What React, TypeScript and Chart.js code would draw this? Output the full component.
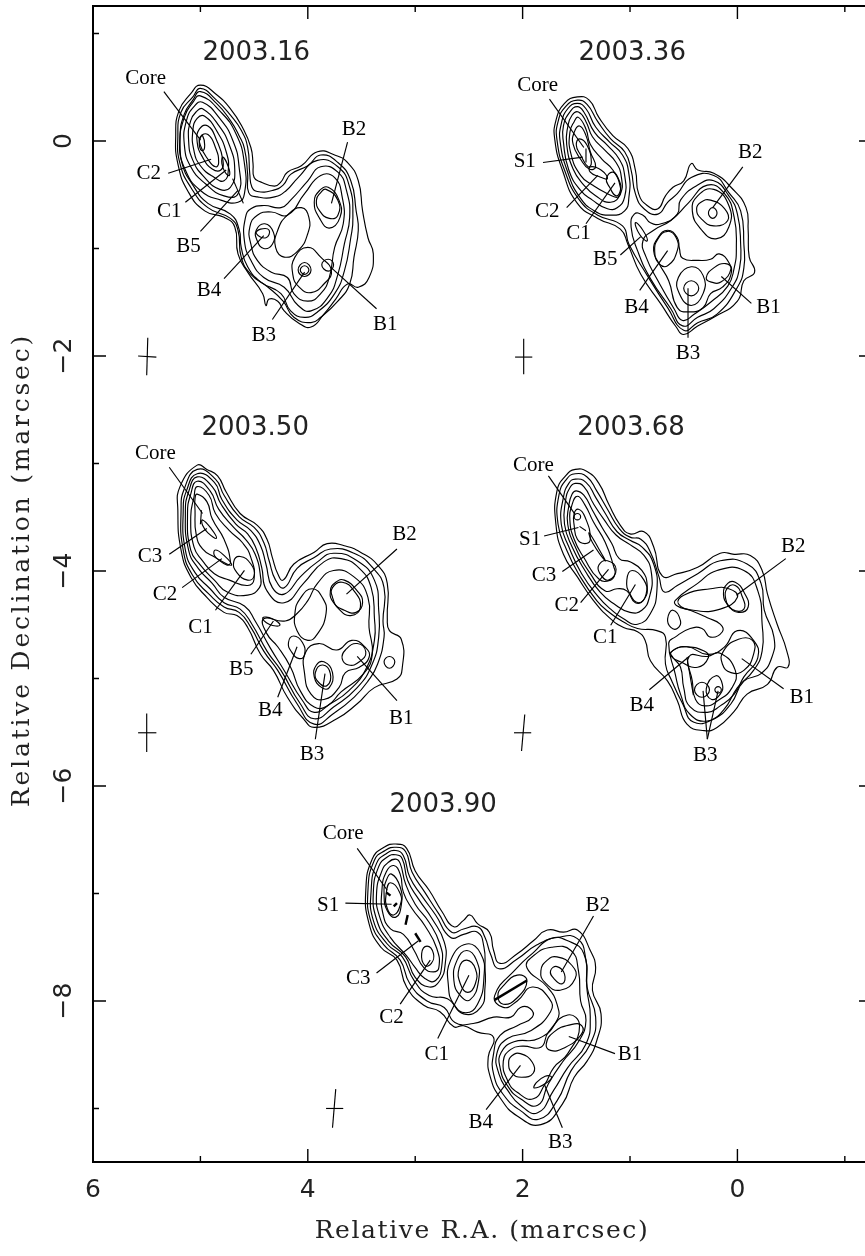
import React, { useEffect, useRef } from "react";
import { Chart, registerables } from "chart.js";

Chart.register(...registerables);

type Pt = [number, number];
type Label = [string, number, number];

// All positions below are in marcsec, relative to each epoch's own map origin.
const xLabel = "Relative R.A. (marcsec)";
const yLabel = "Relative Declination (marcsec)";
const xRange = [-1.253, 6];
const yRange = [-9.498, 1.256];

// ---------- 2003.16 ----------
const contours16: Pt[][] = [
  [[5.00,.52],[4.86,.44],[4.72,.30],[4.61,.13],[4.53,-.06],[4.51,-.21],[4.50,-.34],[4.44,-.38],[4.31,-.42],[4.25,-.38],[4.19,-.29],[4.06,-.23],[3.91,-.10],[3.75,-.13],[3.63,-.20],[3.53,-.37],[3.49,-.65],[3.44,-.90],[3.39,-1.05],[3.43,-1.27],[3.53,-1.36],[3.63,-1.33],[3.74,-1.47],[3.85,-1.61],[3.97,-1.73],[4.09,-1.69],[4.22,-1.58],[4.28,-1.49],[4.36,-1.47],[4.39,-1.53],[4.42,-1.42],[4.56,-1.22],[4.65,-1.05],[4.68,-.80],[4.78,-.71],[4.96,-.65],[5.12,-.46],[5.21,-.21],[5.23,.04],[5.20,.28],[5.09,.44]],
  [[5.00,.49],[4.86,.39],[4.72,.24],[4.62,.10],[4.56,-.06],[4.54,-.31],[4.52,-.43],[4.47,-.47],[4.33,-.46],[4.23,-.41],[4.16,-.31],[4.00,-.23],[3.88,-.13],[3.72,-.20],[3.60,-.37],[3.55,-.65],[3.53,-.83],[3.57,-1.08],[3.61,-1.33],[3.72,-1.49],[3.88,-1.64],[3.97,-1.69],[4.13,-1.64],[4.23,-1.49],[4.37,-1.36],[4.53,-1.24],[4.62,-1.08],[4.65,-.83],[4.72,-.72],[4.93,-.62],[5.09,-.43],[5.19,-.21],[5.21,.04],[5.18,.27],[5.07,.41]],
  [[5.00,.46],[4.85,.35],[4.72,.19],[4.64,.05],[4.59,-.07],[4.56,-.31],[4.55,-.48],[4.47,-.52],[4.31,-.52],[4.20,-.46],[4.09,-.34],[3.91,-.18],[3.72,-.24],[3.61,-.43],[3.58,-.71],[3.60,-.90],[3.66,-1.21],[3.75,-1.42],[3.91,-1.59],[4.03,-1.64],[4.16,-1.58],[4.25,-1.42],[4.44,-1.31],[4.56,-1.17],[4.62,-.99],[4.64,-.82],[4.72,-.68],[4.93,-.58],[5.07,-.41],[5.17,-.21],[5.19,.04],[5.15,.25],[5.07,.38]],
  [[4.53,-.63],[4.41,-.60],[4.25,-.62],[4.16,-.55],[4.00,-.37],[3.88,-.24],[3.72,-.29],[3.64,-.46],[3.61,-.71],[3.66,-.96],[3.72,-1.24],[3.81,-1.45],[3.97,-1.58],[4.09,-1.53],[4.22,-1.36],[4.41,-1.27],[4.53,-1.11],[4.59,-.93],[4.58,-.71]],
  [[4.34,-.66],[4.19,-.69],[4.03,-.49],[3.88,-.32],[3.75,-.34],[3.68,-.52],[3.67,-.77],[3.75,-.99],[3.80,-1.27],[3.88,-1.42],[4.00,-1.49],[4.13,-1.42],[4.19,-1.27],[4.34,-1.22],[4.47,-1.11],[4.53,-.96],[4.54,-.80],[4.47,-.69]],
  [[4.40,-.77],[4.32,-.85],[4.33,-.96],[4.41,-1.00],[4.47,-.93],[4.48,-.83]],
  [[4.44,-.82],[4.36,-.83],[4.39,-.90],[4.48,-.86]],
  [[4.06,-.62],[3.99,-.71],[4.00,-.86],[4.09,-1.02],[4.22,-1.08],[4.30,-.99],[4.28,-.83],[4.19,-.69]],
  [[4.00,-.99],[3.88,-1.08],[3.78,-1.21],[3.85,-1.33],[3.97,-1.41],[4.08,-1.36],[4.14,-1.24],[4.12,-1.08]],
  [[4.03,-1.13],[3.97,-1.20],[4.03,-1.26],[4.09,-1.20]],
  [[4.03,-1.16],[3.99,-1.20],[4.03,-1.24],[4.07,-1.20]],
  [[3.81,-1.10],[3.76,-1.15],[3.81,-1.21],[3.87,-1.15]],
  [[3.81,-.43],[3.71,-.55],[3.70,-.71],[3.80,-.81],[3.89,-.72],[3.94,-.57],[3.89,-.46]],
  [[3.83,-.45],[3.72,-.55],[3.72,-.69],[3.80,-.72],[3.89,-.65],[3.92,-.55],[3.88,-.48]],
  [[5.00,.42],[4.82,.28],[4.67,.07],[4.59,-.21],[4.59,-.49],[4.65,-.57],[4.81,-.55],[5.00,-.46],[5.14,-.27],[5.19,-.03],[5.15,.22],[5.07,.36]],
  [[4.98,.36],[4.82,.21],[4.70,.01],[4.64,-.24],[4.65,-.49],[4.78,-.51],[4.95,-.40],[5.09,-.24],[5.15,-.03],[5.13,.19],[5.06,.32]],
  [[4.98,.30],[4.84,.16],[4.73,-.04],[4.68,-.27],[4.72,-.43],[4.82,-.45],[4.96,-.34],[5.07,-.18],[5.11,.01],[5.09,.19],[5.03,.28]],
  [[4.96,.23],[4.84,.08],[4.76,-.10],[4.74,-.27],[4.78,-.37],[4.87,-.34],[5.00,-.23],[5.06,-.09],[5.07,.10],[5.03,.21]],
  [[4.93,.14],[4.85,.01],[4.79,-.18],[4.81,-.27],[4.89,-.26],[4.98,-.15],[5.03,-.01],[5.01,.11]],
  [[4.93,.06],[4.86,-.06],[4.83,-.20],[4.86,-.24],[4.93,-.17],[5.00,-.04],[5.00,.04]],
  [[4.98,.05],[4.96,-.04],[4.98,-.09],[5.01,-.04],[5.00,.03]],
  [[4.79,-.15],[4.74,-.24],[4.73,-.32],[4.77,-.29],[4.80,-.21]],
];
const lines16: Pt[][] = [
  [[5.34,.46],[5.00,.01]],[[5.30,-.30],[4.90,-.17]],[[5.14,-.57],[4.76,-.27]],[[5.00,-.84],[4.65,-.46]],[[4.70,-.35],[4.60,-.58]],
  [[3.63,-.01],[3.78,-.58]],[[4.78,-1.28],[4.41,-.88]],[[4.33,-1.66],[4.03,-1.22]],[[3.36,-1.56],[3.78,-1.18]],
  [[5.49,-1.83],[5.50,-2.18]],[[5.58,-2.00],[5.41,-2.01]],
];
const labels16: Label[] = [["Core",5.51,.58],["C2",5.48,-.30],["C1",5.29,-.66],["B5",5.11,-.98],["B2",3.57,.11],["B4",4.92,-1.39],["B3",4.41,-1.81],["B1",3.28,-1.71]];

// ---------- 2003.36 ----------
const contours36: Pt[][] = [
  [[5.12,.41],[5.01,.38],[4.92,.22],[4.79,.05],[4.65,-.07],[4.58,-.27],[4.55,-.49],[4.47,-.60],[4.37,-.63],[4.30,-.51],[4.23,-.43],[4.13,-.37],[4.06,-.21],[4.00,-.27],[3.85,-.30],[3.69,-.43],[3.55,-.62],[3.53,-.83],[3.52,-1.08],[3.47,-1.22],[3.57,-1.30],[3.63,-1.49],[3.85,-1.64],[4.00,-1.72],[4.13,-1.80],[4.20,-1.73],[4.34,-1.52],[4.53,-1.24],[4.65,-.96],[4.72,-.82],[4.93,-.72],[5.12,-.58],[5.26,-.27],[5.33,.01],[5.32,.19],[5.24,.35]],
  [[5.12,.38],[5.03,.34],[4.93,.18],[4.81,.02],[4.68,-.10],[4.62,-.27],[4.58,-.49],[4.50,-.63],[4.37,-.68],[4.28,-.57],[4.19,-.49],[4.06,-.34],[3.85,-.32],[3.71,-.48],[3.60,-.65],[3.57,-.96],[3.57,-1.18],[3.63,-1.36],[3.82,-1.61],[4.00,-1.69],[4.13,-1.76],[4.28,-1.55],[4.47,-1.25],[4.64,-.96],[4.70,-.79],[4.93,-.69],[5.10,-.55],[5.24,-.27],[5.31,.01],[5.30,.18],[5.23,.32]],
  [[5.12,.35],[5.04,.30],[4.95,.13],[4.82,-.01],[4.70,-.13],[4.64,-.31],[4.64,-.52],[4.68,-.65],[4.81,-.69],[4.96,-.65],[5.10,-.52],[5.21,-.29],[5.28,-.01],[5.27,.16],[5.21,.30]],
  [[5.12,.32],[5.06,.27],[4.96,.08],[4.84,-.04],[4.73,-.17],[4.68,-.32],[4.68,-.52],[4.75,-.62],[4.84,-.63],[4.98,-.55],[5.09,-.46],[5.20,-.27],[5.25,-.01],[5.25,.14],[5.19,.27]],
  [[5.11,.27],[5.04,.18],[4.98,.04],[4.86,-.09],[4.76,-.20],[4.71,-.34],[4.72,-.49],[4.81,-.57],[4.95,-.51],[5.06,-.41],[5.16,-.26],[5.22,-.03],[5.21,.13],[5.17,.24]],
  [[5.11,.22],[5.04,.11],[5.00,-.03],[4.89,-.17],[4.79,-.27],[4.72,-.43],[4.74,-.52],[4.84,-.49],[4.98,-.41],[5.09,-.32],[5.18,-.12],[5.19,.08],[5.15,.18]],
  [[5.10,.14],[5.04,.05],[5.00,-.10],[4.95,-.24],[5.01,-.26],[5.09,-.17],[5.16,-.03],[5.15,.08]],
  [[5.10,.02],[5.03,-.04],[4.99,-.20],[5.02,-.24],[5.09,-.13],[5.13,-.04]],
  [[5.00,-.24],[4.90,-.27],[4.84,-.35],[4.92,-.33],[5.00,-.29]],
  [[4.79,-.29],[4.73,-.37],[4.72,-.46],[4.76,-.51],[4.82,-.43],[4.85,-.35]],
  [[4.59,-.68],[4.51,-.69],[4.44,-.76],[4.34,-.77],[4.19,-.68],[4.16,-.55],[4.00,-.41],[3.85,-.37],[3.71,-.51],[3.63,-.68],[3.60,-.96],[3.61,-1.18],[3.68,-1.36],[3.85,-1.56],[4.00,-1.64],[4.14,-1.72],[4.25,-1.56],[4.44,-1.28],[4.56,-1.02],[4.62,-.80]],
  [[4.28,-.83],[4.19,-.90],[4.17,-1.00],[4.14,-1.09],[3.99,-1.11],[3.88,-1.10],[3.80,-1.05],[3.71,-1.13],[3.69,-1.24],[3.77,-1.36],[3.88,-1.42],[3.95,-1.55],[4.08,-1.59],[4.19,-1.55],[4.27,-1.30],[4.36,-1.14],[4.41,-1.02],[4.37,-.90]],
  [[4.41,-.83],[4.25,-.74],[4.09,-.58],[3.91,-.41],[3.75,-.49],[3.66,-.71],[3.64,-.99],[3.66,-1.18],[3.72,-1.35],[3.88,-1.50],[4.03,-1.61],[4.14,-1.67],[4.22,-1.56],[4.37,-1.30],[4.48,-1.08],[4.51,-.93]],
  [[4.58,-.76],[4.51,-.83],[4.47,-.93],[4.54,-.87]],
  [[4.28,-.84],[4.20,-.90],[4.19,-1.02],[4.28,-1.16],[4.36,-1.14],[4.40,-1.03],[4.37,-.91]],
  [[3.85,-.45],[3.71,-.60],[3.71,-.80],[3.83,-.91],[3.97,-.82],[4.05,-.65],[4.00,-.51]],
  [[3.88,-.55],[3.75,-.63],[3.72,-.74],[3.85,-.79],[3.97,-.72],[4.01,-.63],[3.97,-.57]],
  [[3.86,-.62],[3.82,-.67],[3.86,-.72],[3.90,-.67]],
  [[4.06,-1.17],[3.95,-1.25],[3.95,-1.42],[4.06,-1.53],[4.17,-1.42],[4.18,-1.27]],
  [[4.06,-1.30],[3.99,-1.37],[4.06,-1.44],[4.13,-1.37]],
  [[3.74,-1.14],[3.69,-1.19],[3.78,-1.31],[3.88,-1.31],[3.92,-1.27],[3.85,-1.18]],
];
const lines36: Pt[][] = [
  [[5.38,.39],[5.06,-.06]],[[5.44,-.20],[5.07,-.15]],[[5.22,-.62],[4.93,-.32]],[[5.04,-.77],[4.77,-.39]],[[4.72,-1.06],[4.53,-.89]],
  [[3.58,-.24],[3.86,-.62]],[[4.54,-1.39],[4.28,-1.02]],[[4.09,-1.83],[4.09,-1.37]],[[3.50,-1.51],[3.78,-1.26]],
  [[5.04,-.07],[5.04,-.20]],
  [[5.62,-1.84],[5.62,-2.17]],[[5.70,-2.01],[5.54,-2.01]],
];
const labels36: Label[] = [["Core",5.49,.52],["S1",5.61,-.19],["C2",5.40,-.66],["C1",5.11,-.86],["B5",4.86,-1.10],["B2",3.51,-.11],["B4",4.57,-1.55],["B3",4.09,-1.98],["B1",3.34,-1.55]];

// ---------- 2003.50 ----------
const contours50: Pt[][] = [
  [[5.12,.52],[5.03,.48],[4.93,.42],[4.85,.27],[4.72,.07],[4.56,-.04],[4.47,-.17],[4.42,-.34],[4.37,-.49],[4.32,-.55],[4.22,-.40],[4.03,-.29],[3.91,-.21],[3.75,-.23],[3.60,-.29],[3.44,-.41],[3.35,-.58],[3.35,-.90],[3.33,-1.02],[3.22,-1.10],[3.21,-1.36],[3.26,-1.47],[3.47,-1.55],[3.63,-1.70],[3.82,-1.84],[4.03,-1.92],[4.13,-1.84],[4.28,-1.64],[4.41,-1.39],[4.53,-1.24],[4.65,-.99],[4.75,-.88],[4.87,-.85],[5.03,-.71],[5.18,-.52],[5.27,-.27],[5.30,.10],[5.28,.32]],
  [[5.12,.48],[4.95,.39],[4.87,.24],[4.73,.04],[4.59,-.06],[4.50,-.20],[4.45,-.37],[4.39,-.55],[4.31,-.62],[4.19,-.44],[4.03,-.34],[3.88,-.26],[3.66,-.30],[3.49,-.43],[3.38,-.62],[3.39,-.93],[3.38,-1.08],[3.44,-1.33],[3.53,-1.49],[3.66,-1.64],[3.85,-1.79],[4.03,-1.89],[4.19,-1.70],[4.37,-1.39],[4.50,-1.21],[4.62,-.99],[4.73,-.85],[4.87,-.80],[5.01,-.68],[5.16,-.51],[5.25,-.27],[5.27,.10],[5.24,.30]],
  [[5.12,.44],[4.96,.36],[4.89,.20],[4.75,.01],[4.62,-.09],[4.53,-.23],[4.48,-.40],[4.42,-.62],[4.31,-.68],[4.16,-.52],[4.00,-.38],[3.85,-.30],[3.63,-.37],[3.47,-.55],[3.43,-.83],[3.43,-1.08],[3.49,-1.33],[3.63,-1.55],[3.85,-1.73],[4.03,-1.84],[4.16,-1.70],[4.34,-1.39],[4.47,-1.21],[4.61,-.96],[4.72,-.82],[4.87,-.76],[5.00,-.63],[5.14,-.48],[5.23,-.27],[5.25,.10],[5.22,.28]],
  [[5.12,.41],[4.98,.32],[4.90,.16],[4.76,-.03],[4.65,-.12],[4.57,-.26],[4.52,-.43],[4.47,-.65],[4.31,-.76],[4.13,-.58],[3.94,-.38],[3.78,-.35],[3.61,-.44],[3.50,-.62],[3.47,-.90],[3.47,-1.11],[3.55,-1.38],[3.71,-1.58],[3.88,-1.70],[4.03,-1.78],[4.14,-1.67],[4.31,-1.39],[4.44,-1.18],[4.58,-.93],[4.68,-.79],[4.87,-.71],[4.98,-.58],[5.11,-.44],[5.20,-.27],[5.23,.08],[5.20,.27]],
  [[5.12,.37],[5.00,.28],[4.92,.11],[4.78,-.06],[4.67,-.17],[4.58,-.31],[4.53,-.52],[4.54,-.62],[4.65,-.69],[4.84,-.66],[4.96,-.55],[5.09,-.41],[5.18,-.27],[5.21,.07],[5.18,.25]],
  [[5.12,.32],[5.01,.24],[4.95,.07],[4.82,-.09],[4.70,-.20],[4.62,-.34],[4.59,-.54],[4.65,-.60],[4.82,-.55],[4.96,-.49],[5.07,-.37],[5.15,-.24],[5.18,.04],[5.15,.22]],
  [[5.12,.25],[5.03,.18],[4.98,.02],[4.87,-.17],[4.81,-.38],[4.84,-.41],[4.95,-.34],[5.07,-.26],[5.13,-.12],[5.14,.10],[5.14,.21]],
  [[4.95,-.27],[4.87,-.32],[4.80,-.41],[4.90,-.37],[4.96,-.32]],
  [[4.72,-.33],[4.62,-.40],[4.59,-.51],[4.65,-.55],[4.75,-.48],[4.78,-.38]],
  [[5.07,.01],[4.99,-.07],[4.94,-.16],[5.02,-.11],[5.07,-.04]],
  [[4.51,-.90],[4.42,-.91],[4.35,-.97],[4.45,-.96]],
  [[4.22,-1.07],[4.14,-1.13],[4.12,-1.24],[4.17,-1.28],[4.24,-1.22],[4.27,-1.13]],
  [[4.05,-.63],[3.95,-.72],[3.92,-.86],[4.00,-1.05],[4.09,-1.11],[4.19,-1.02],[4.21,-.86],[4.16,-.72]],
  [[3.75,-.55],[3.63,-.65],[3.58,-.76],[3.64,-.85],[3.75,-.83],[3.85,-.76],[3.88,-.65],[3.83,-.57]],
  [[3.77,-.57],[3.66,-.65],[3.60,-.80],[3.69,-.88],[3.80,-.82],[3.86,-.71],[3.86,-.62]],
  [[4.11,-1.22],[3.99,-1.14],[3.82,-1.20],[3.68,-1.11],[3.55,-1.18],[3.52,-1.27],[3.61,-1.36],[3.74,-1.41],[3.80,-1.55],[3.94,-1.66],[4.06,-1.61],[4.12,-1.42]],
  [[4.30,-.93],[4.19,-.86],[4.09,-.74],[4.00,-.58],[3.85,-.46],[3.66,-.52],[3.53,-.71],[3.52,-.99],[3.49,-1.24],[3.57,-1.42],[3.78,-1.59],[3.91,-1.72],[4.03,-1.73],[4.16,-1.58],[4.25,-1.36],[4.37,-1.17],[4.47,-1.05],[4.50,-.91]],
  [[3.63,-1.14],[3.55,-1.22],[3.61,-1.31],[3.71,-1.34],[3.77,-1.28],[3.74,-1.20]],
  [[3.94,-1.31],[3.86,-1.41],[3.89,-1.55],[3.96,-1.55],[4.03,-1.45],[4.01,-1.34]],
  [[3.95,-1.34],[3.88,-1.42],[3.91,-1.53],[3.99,-1.50],[4.02,-1.41]],
  [[3.33,-1.26],[3.28,-1.31],[3.33,-1.37],[3.38,-1.31]],
];
const lines50: Pt[][] = [
  [[5.38,.50],[5.07,.07]],[[5.38,-.31],[5.03,-.07]],[[5.26,-.62],[4.89,-.35]],[[4.95,-.83],[4.68,-.46]],[[4.62,-1.24],[4.41,-.93]],
  [[3.26,-.26],[3.73,-.68]],[[4.37,-1.64],[4.19,-1.17]],[[4.02,-2.03],[3.93,-1.42]],[[3.26,-1.67],[3.63,-1.26]],
  [[5.08,.10],[5.09,-.03]],
  [[5.59,-1.79],[5.59,-2.15]],[[5.67,-1.97],[5.50,-1.97]],
];
const labels50: Label[] = [["Core",5.51,.63],["C3",5.56,-.33],["C2",5.42,-.68],["C1",5.09,-.99],["B5",4.71,-1.38],["B2",3.19,-.13],["B4",4.44,-1.76],["B3",4.05,-2.17],["B1",3.22,-1.84]];

// ---------- 2003.68 ----------
const contours68: Pt[][] = [
  [[5.23,.48],[5.12,.46],[5.01,.35],[4.92,.16],[4.81,-.04],[4.72,-.12],[4.59,-.10],[4.50,-.24],[4.42,-.51],[4.28,-.49],[4.09,-.43],[3.88,-.30],[3.75,-.31],[3.60,-.32],[3.49,-.46],[3.44,-.68],[3.35,-.96],[3.26,-1.21],[3.25,-1.36],[3.35,-1.36],[3.44,-1.52],[3.63,-1.61],[3.75,-1.77],[3.91,-1.92],[4.03,-1.95],[4.19,-1.89],[4.28,-1.67],[4.37,-1.49],[4.53,-1.30],[4.58,-1.11],[4.65,-1.03],[4.78,-.99],[4.90,-.91],[5.06,-.74],[5.21,-.52],[5.34,-.31],[5.41,-.03],[5.40,.28],[5.32,.42]],
  [[5.23,.44],[5.12,.41],[5.03,.28],[4.93,.11],[4.82,-.07],[4.72,-.15],[4.62,-.17],[4.53,-.29],[4.45,-.52],[4.40,-.66],[4.28,-.60],[4.09,-.49],[3.88,-.37],[3.63,-.40],[3.50,-.58],[3.47,-.83],[3.38,-1.08],[3.40,-1.27],[3.50,-1.42],[3.66,-1.49],[3.78,-1.70],[3.94,-1.84],[4.13,-1.87],[4.23,-1.70],[4.33,-1.49],[4.39,-1.33],[4.39,-1.08],[4.47,-1.02],[4.65,-1.00],[4.78,-.94],[4.90,-.86],[5.03,-.74],[5.20,-.49],[5.31,-.27],[5.39,-.03],[5.38,.25],[5.31,.39]],
  [[5.23,.39],[5.13,.36],[5.04,.22],[4.95,.07],[4.84,-.10],[4.72,-.18],[4.61,-.24],[4.50,-.40],[4.47,-.65],[4.53,-.86],[4.65,-.96],[4.78,-.91],[4.90,-.82],[5.01,-.71],[5.17,-.49],[5.29,-.24],[5.36,-.03],[5.34,.22],[5.29,.35]],
  [[5.23,.35],[5.15,.32],[5.06,.16],[4.96,.01],[4.85,-.13],[4.72,-.22],[4.59,-.32],[4.52,-.49],[4.54,-.71],[4.61,-.83],[4.72,-.85],[4.87,-.77],[5.00,-.66],[5.14,-.46],[5.26,-.24],[5.33,-.03],[5.32,.19],[5.28,.31]],
  [[5.22,.28],[5.15,.24],[5.07,.10],[4.98,-.06],[4.89,-.21],[4.82,-.35],[4.72,-.38],[4.61,-.46],[4.56,-.60],[4.59,-.73],[4.67,-.76],[4.75,-.65],[4.84,-.63],[4.95,-.65],[5.09,-.49],[5.23,-.24],[5.30,-.03],[5.29,.14],[5.26,.25]],
  [[5.21,.23],[5.14,.15],[5.06,-.01],[4.95,-.20],[4.87,-.43],[4.86,-.49],[4.90,-.55],[5.01,-.54],[5.15,-.34],[5.24,-.17],[5.28,.01],[5.26,.15]],
  [[5.20,.11],[5.14,.04],[5.09,-.17],[5.14,-.21],[5.21,-.17],[5.24,-.04],[5.24,.07]],
  [[5.21,.07],[5.18,.04],[5.21,.01],[5.24,.04]],
  [[5.10,-.11],[5.01,-.26],[4.95,-.37],[5.07,-.20]],
  [[4.93,-.37],[4.85,-.45],[4.92,-.55],[5.00,-.49],[5.01,-.41]],
  [[4.70,-.46],[4.59,-.55],[4.57,-.68],[4.64,-.76],[4.72,-.68],[4.75,-.55]],
  [[3.97,-.63],[3.80,-.63],[3.72,-.71],[3.88,-.82],[4.13,-.83],[4.27,-.77],[4.22,-.69]],
  [[3.74,-.57],[3.66,-.66],[3.62,-.80],[3.71,-.85],[3.80,-.79],[3.85,-.68],[3.81,-.58]],
  [[3.74,-.60],[3.68,-.69],[3.66,-.82],[3.77,-.82],[3.83,-.72],[3.81,-.62]],
  [[4.32,-.83],[4.25,-.93],[4.28,-1.00],[4.34,-.99],[4.37,-.91]],
  [[4.30,-.74],[4.09,-.58],[3.91,-.46],[3.66,-.46],[3.53,-.65],[3.49,-.96],[3.49,-1.21],[3.57,-1.39],[3.72,-1.55],[3.85,-1.76],[4.00,-1.86],[4.16,-1.80],[4.25,-1.61],[4.30,-1.42],[4.36,-1.14],[4.30,-1.08],[4.16,-1.00],[4.05,-1.00],[3.97,-1.08],[3.86,-1.03],[3.88,-.96],[4.00,-.90],[4.16,-.83],[4.28,-.79]],
  [[3.72,-1.02],[3.57,-1.11],[3.53,-1.27],[3.66,-1.45],[3.75,-1.61],[3.88,-1.72],[4.00,-1.78],[4.16,-1.73],[4.22,-1.55],[4.25,-1.36],[4.32,-1.27],[4.34,-1.22],[4.19,-1.17],[4.00,-1.24],[3.85,-1.18]],
  [[4.17,-1.26],[4.00,-1.26],[3.88,-1.23],[3.74,-1.39],[3.77,-1.55],[3.90,-1.67],[4.02,-1.72],[4.11,-1.66],[4.14,-1.49]],
  [[4.19,-1.17],[4.03,-1.21],[3.99,-1.27],[4.09,-1.36],[4.25,-1.31],[4.34,-1.25],[4.30,-1.19]],
  [[3.71,-1.10],[3.58,-1.11],[3.57,-1.24],[3.66,-1.39],[3.78,-1.41],[3.86,-1.33],[3.85,-1.21]],
  [[4.05,-1.50],[3.98,-1.57],[4.05,-1.64],[4.12,-1.57]],
  [[3.92,-1.44],[3.86,-1.52],[3.88,-1.61],[3.96,-1.66],[4.01,-1.56]],
  [[3.90,-1.54],[3.87,-1.57],[3.90,-1.60],[3.93,-1.57]],
];
const lines68: Pt[][] = [
  [[5.48,.42],[5.23,.06]],[[5.52,-.14],[5.20,-.06]],[[5.35,-.47],[5.06,-.27]],[[5.18,-.76],[4.92,-.45]],[[4.90,-.97],[4.67,-.59]],
  [[3.27,-.35],[3.73,-.69]],[[4.54,-1.57],[4.17,-1.26]],[[4.00,-2.03],[4.04,-1.58]],[[4.00,-2.03],[3.90,-1.58]],[[3.29,-1.56],[3.68,-1.28]],
  [[5.19,-.05],[5.13,-.09]],[[4.19,-1.27],[4.13,-1.62]],
  [[5.70,-1.80],[5.73,-2.14]],[[5.80,-1.97],[5.64,-1.97]],
];
const labels68: Label[] = [["Core",5.62,.52],["S1",5.65,-.17],["C3",5.52,-.51],["C2",5.31,-.79],["C1",4.95,-1.08],["B2",3.20,-.24],["B4",4.61,-1.72],["B3",4.02,-2.18],["B1",3.12,-1.64]];

// ---------- 2003.90 ----------
const contours90: Pt[][] = [
  [[5.13,.53],[5.03,.49],[4.95,.28],[4.82,.10],[4.70,-.10],[4.59,-.24],[4.50,-.18],[4.44,-.13],[4.37,-.21],[4.26,-.29],[4.22,-.46],[4.16,-.58],[4.00,-.49],[3.85,-.37],[3.72,-.27],[3.57,-.29],[3.44,-.27],[3.32,-.46],[3.27,-.62],[3.30,-.83],[3.22,-1.05],[3.26,-1.30],[3.35,-1.49],[3.47,-1.64],[3.58,-1.89],[3.78,-2.08],[4.00,-2.00],[4.16,-1.83],[4.25,-1.64],[4.27,-1.45],[4.22,-1.27],[4.37,-1.22],[4.50,-1.16],[4.59,-1.17],[4.72,-1.03],[4.87,-.97],[5.03,-.80],[5.12,-.55],[5.27,-.43],[5.38,-.21],[5.41,.10],[5.35,.39],[5.24,.50]],
  [[5.13,.50],[5.04,.46],[4.98,.27],[4.86,.08],[4.73,-.12],[4.61,-.29],[4.50,-.26],[4.37,-.24],[4.30,-.34],[4.25,-.49],[4.17,-.63],[4.00,-.54],[3.82,-.41],[3.63,-.34],[3.44,-.35],[3.36,-.55],[3.35,-.80],[3.27,-1.08],[3.32,-1.33],[3.50,-1.58],[3.63,-1.86],[3.80,-2.03],[3.97,-1.95],[4.13,-1.80],[4.22,-1.61],[4.22,-1.42],[4.16,-1.25],[4.00,-1.16],[3.86,-1.08],[3.88,-1.00],[3.97,-.99],[4.06,-1.08],[4.22,-1.08],[4.41,-1.14],[4.58,-1.13],[4.68,-.99],[4.84,-.93],[5.00,-.77],[5.09,-.55],[5.24,-.41],[5.36,-.20],[5.39,.10],[5.33,.38],[5.23,.47]],
  [[5.13,.47],[5.06,.42],[5.00,.22],[4.89,.05],[4.76,-.13],[4.62,-.34],[4.50,-.31],[4.37,-.29],[4.31,-.43],[4.30,-.62],[4.30,-.80],[4.34,-.99],[4.50,-1.05],[4.65,-.91],[4.82,-.88],[4.96,-.74],[5.07,-.52],[5.21,-.40],[5.34,-.18],[5.36,.10],[5.31,.35],[5.22,.44]],
  [[5.13,.43],[5.07,.39],[5.02,.19],[4.92,.02],[4.79,-.17],[4.68,-.38],[4.67,-.58],[4.72,-.74],[4.82,-.80],[4.95,-.71],[5.04,-.52],[5.20,-.37],[5.31,-.17],[5.34,.08],[5.29,.32],[5.21,.41]],
  [[5.13,.39],[5.09,.35],[5.04,.16],[4.95,-.03],[4.82,-.20],[4.72,-.40],[4.70,-.58],[4.76,-.74],[4.86,-.72],[4.95,-.62],[5.03,-.51],[5.18,-.34],[5.28,-.15],[5.31,.07],[5.26,.28],[5.20,.36]],
  [[5.15,.33],[5.09,.25],[5.06,.08],[4.98,-.07],[4.86,-.23],[4.75,-.44],[4.73,-.62],[4.78,-.66],[4.87,-.62],[4.96,-.46],[5.06,-.31],[5.18,-.26],[5.25,-.12],[5.26,.10],[5.22,.27]],
  [[5.17,.25],[5.09,.13],[5.08,-.04],[5.13,-.15],[5.21,-.09],[5.24,.07],[5.22,.19]],
  [[5.18,.17],[5.09,.07],[5.09,-.04],[5.15,-.13],[5.21,-.07],[5.22,.07]],
  [[4.84,-.42],[4.78,-.49],[4.80,-.58],[4.86,-.60],[4.89,-.49]],
  [[4.47,-.40],[4.34,-.49],[4.31,-.71],[4.37,-.96],[4.48,-1.04],[4.59,-.96],[4.64,-.80],[4.62,-.55]],
  [[4.47,-.46],[4.38,-.55],[4.36,-.74],[4.44,-.92],[4.53,-.88],[4.59,-.74],[4.56,-.55]],
  [[4.47,-.55],[4.39,-.63],[4.39,-.77],[4.46,-.85],[4.53,-.77],[4.54,-.62]],
  [[4.00,-.69],[3.91,-.74],[4.00,-.90],[4.13,-.96],[4.18,-.88],[4.13,-.79]],
  [[4.21,-.88],[4.00,-.62],[3.85,-.48],[3.69,-.35],[3.53,-.37],[3.38,-.49],[3.35,-.83],[3.32,-1.08],[3.36,-1.33],[3.53,-1.55],[3.66,-1.76],[3.81,-1.97],[3.97,-1.90],[4.09,-1.76],[4.17,-1.61],[4.19,-1.42],[4.09,-1.28],[3.88,-1.21],[3.69,-1.03],[3.70,-.91],[3.86,-.80],[4.00,-.93],[4.13,-.99]],
  [[3.68,-.43],[3.50,-.46],[3.43,-.65],[3.41,-.93],[3.36,-1.11],[3.43,-1.31],[3.58,-1.50],[3.71,-1.70],[3.81,-1.90],[3.97,-1.84],[4.09,-1.72],[4.16,-1.55],[4.15,-1.41],[4.03,-1.31],[3.80,-1.28],[3.63,-1.11],[3.63,-.96],[3.72,-.80],[3.91,-.62],[3.85,-.51]],
  [[3.53,-1.06],[3.42,-1.16],[3.53,-1.42],[3.66,-1.55],[3.74,-1.70],[3.85,-1.84],[4.00,-1.78],[4.09,-1.67],[4.13,-1.49],[4.06,-1.38],[3.95,-1.35],[3.78,-1.36],[3.71,-1.22]],
  [[3.63,-.52],[3.49,-.60],[3.46,-.72],[3.60,-.83],[3.74,-.76],[3.78,-.65],[3.72,-.55]],
  [[3.63,-.61],[3.56,-.68],[3.58,-.77],[3.66,-.72],[3.69,-.65]],
  [[3.50,-1.15],[3.40,-1.16],[3.41,-1.25],[3.57,-1.37],[3.69,-1.39],[3.73,-1.33],[3.66,-1.22]],
  [[3.97,-1.42],[3.86,-1.50],[3.85,-1.60],[3.96,-1.64],[4.05,-1.60],[4.08,-1.50],[4.05,-1.44]],
  [[3.74,-1.63],[3.68,-1.64],[3.74,-1.70],[3.84,-1.74],[3.83,-1.70]],
];
const lines90: Pt[][] = [
  [[5.49,.49],[5.21,.10]],[[5.60,-.02],[5.17,-.03]],[[5.31,-.67],[4.92,-.37]],[[5.09,-.96],[4.81,-.55]],[[4.74,-1.28],[4.45,-.69]],
  [[3.29,-.14],[3.59,-.66]],[[3.09,-1.42],[3.52,-1.26]],[[4.29,-1.94],[3.97,-1.53]],[[3.58,-2.11],[3.75,-1.70]],
  [[5.69,-1.75],[5.72,-2.11]],[[5.78,-1.93],[5.62,-1.93]],
];
const thick90: Pt[][] = [[[4.21,-.92],[3.91,-.74]],[[5.15,-.05],[5.12,-.02]],[[5.22,.08],[5.18,.05]],[[5.02,-.13],[5.04,-.22]],[[4.95,-.30],[4.90,-.38]]];
const labels90: Label[] = [["Core",5.62,.63],["S1",5.76,-.04],["C3",5.48,-.72],["C2",5.17,-1.08],["C1",4.75,-1.43],["B2",3.25,-.04],["B1",2.95,-1.43],["B4",4.34,-2.06],["B3",3.60,-2.25]];

// Epoch table: map offset on the sky plot, and the date heading position.
const epochNames = ["2003.16", "2003.36", "2003.50", "2003.68", "2003.90"];
const offsetRA = [0, -3.63, -0.09, -3.72, -1.95];
const offsetDec = [0, 0, -3.535, -3.535, -7.07];
const headingPos: Pt[] = [[4.48, .82], [4.61, .82], [4.58, .86], [4.71, .86], [4.69, .89]];
const contourSets = [contours16, contours36, contours50, contours68, contours90];
const lineSets = [lines16, lines36, lines50, lines68, lines90];
const thickSets: Pt[][][] = [[], [], [], [], thick90];
const labelSets = [labels16, labels36, labels50, labels68, labels90];

const ink = "#000";
const serif = '"Liberation Serif", serif';
const plotFont = '"DejaVu Sans", sans-serif';
const axisFont = '"DejaVu Serif", serif';

function line(points: Pt[], i: number, closed: boolean, width: number) {
  return {
    data: points.map(([x, y]) => ({ x: x + offsetRA[i], y: y + offsetDec[i] })),
    showLine: true,
    borderColor: ink,
    borderWidth: width,
    pointRadius: 0,
    tension: closed ? 0.5 : 0,
    fill: false,
    closedContour: closed,
  };
}

// Closes every contour as a true spline loop, using the line element's own loop support.
const closeLoops = {
  id: "closeLoops",
  beforeDatasetsDraw(chart: any) {
    chart.data.datasets.forEach((d: any, i: number) => {
      if (!d.closedContour) return;
      const el = chart.getDatasetMeta(i).dataset;
      if (!el) return;
      el._loop = true;
      el._fullLoop = true;
      el.points = el.points;
      el.updateControlPoints(chart.chartArea, "x");
    });
  },
};

const overlay = {
  id: "overlay",
  afterDraw(chart: any) {
    const { ctx, chartArea: a, scales } = chart;
    const X = scales.x, Y = scales.y;
    ctx.save();
    ctx.strokeStyle = ink;
    ctx.lineWidth = 2;
    ctx.strokeRect(a.left, a.top, a.right - a.left, a.bottom - a.top);
    ctx.lineWidth = 1.4;
    ctx.beginPath();
    X.ticks.forEach((t: any) => {
      const p = X.getPixelForValue(t.value);
      const len = Math.abs(t.value) % 2 === 0 ? 13 : 6;
      ctx.moveTo(p, a.bottom); ctx.lineTo(p, a.bottom - len);
      ctx.moveTo(p, a.top); ctx.lineTo(p, a.top + len);
    });
    Y.ticks.forEach((t: any) => {
      const p = Y.getPixelForValue(t.value);
      const len = Math.abs(t.value) % 2 === 0 ? 13 : 6;
      ctx.moveTo(a.left, p); ctx.lineTo(a.left + len, p);
      ctx.moveTo(a.right, p); ctx.lineTo(a.right - len, p);
    });
    ctx.stroke();

    ctx.fillStyle = ink;
    ctx.textAlign = "center";
    ctx.textBaseline = "middle";
    labelSets.forEach((set, i) => {
      ctx.font = `21px ${serif}`;
      ctx.fillStyle = ink;
      set.forEach(([text, x, y]) => {
        ctx.fillText(text, X.getPixelForValue(x + offsetRA[i]), Y.getPixelForValue(y + offsetDec[i]));
      });
      ctx.font = `26px ${plotFont}`;
      ctx.fillStyle = "#222";
      const [hx, hy] = headingPos[i];
      ctx.fillText(epochNames[i], X.getPixelForValue(hx + offsetRA[i]), Y.getPixelForValue(hy + offsetDec[i]));
    });

    ctx.fillStyle = "#222";
    ctx.font = `25px ${axisFont}`;
    ctx.letterSpacing = "1.6px";
    ctx.fillText(xLabel, 482, 1231);
    ctx.letterSpacing = "2.8px";
    ctx.translate(22, 570);
    ctx.rotate(-Math.PI / 2);
    ctx.fillText(yLabel, 0, 0);
    ctx.restore();
  },
};

export default function App() {
  const ref = useRef<HTMLCanvasElement>(null);
  useEffect(() => {
    if (!ref.current) return;
    const datasets: any[] = [];
    contourSets.forEach((set, i) => set.forEach((c) => datasets.push(line(c, i, true, 1.15))));
    lineSets.forEach((set, i) => set.forEach((c) => datasets.push(line(c, i, false, 1.15))));
    thickSets.forEach((set, i) => set.forEach((c) => datasets.push(line(c, i, false, 2.4))));
    const tickLabel = (v: any) => {
      const n = Number(v);
      if (Math.abs(n) % 2 !== 0) return "";
      return n < 0 ? "\u2212" + Math.abs(n) : String(n);
    };
    const chart = new Chart(ref.current, {
      type: "scatter",
      data: { datasets },
      plugins: [closeLoops, overlay],
      options: {
        animation: false,
        responsive: false,
        maintainAspectRatio: false,
        layout: { autoPadding: false, padding: { left: 0, top: 6, right: 3, bottom: 0 } },
        plugins: { legend: { display: false }, title: { display: false }, tooltip: { enabled: false } },
        scales: {
          x: {
            type: "linear",
            reverse: true,
            min: xRange[0],
            max: xRange[1],
            border: { display: false },
            grid: { drawOnChartArea: false, drawTicks: false },
            afterFit: (s: any) => { s.height = 94; s.paddingLeft = 0; s.paddingRight = 0; },
            ticks: {
              stepSize: 1,
              includeBounds: false,
              autoSkip: false,
              maxRotation: 0,
              padding: 13,
              color: "#222",
              font: { family: plotFont, size: 25 },
              callback: tickLabel,
            },
          },
          y: {
            type: "linear",
            min: yRange[0],
            max: yRange[1],
            border: { display: false },
            grid: { drawOnChartArea: false, drawTicks: false },
            afterFit: (s: any) => { s.width = 93; s.paddingTop = 0; s.paddingBottom = 0; },
            ticks: {
              stepSize: 1,
              includeBounds: false,
              autoSkip: false,
              minRotation: 90,
              maxRotation: 90,
              crossAlign: "center",
              padding: 10,
              color: "#222",
              font: { family: plotFont, size: 25 },
              callback: tickLabel,
            },
          },
        },
      } as any,
    });
    return () => chart.destroy();
  }, []);
  return (
    <div style={{ position: "absolute", left: 0, top: 0, width: 865, height: 1256, overflow: "hidden", background: "#fff" }}>
      <canvas ref={ref} width={875} height={1256} style={{ display: "block", width: 875, height: 1256 }} />
    </div>
  );
}
